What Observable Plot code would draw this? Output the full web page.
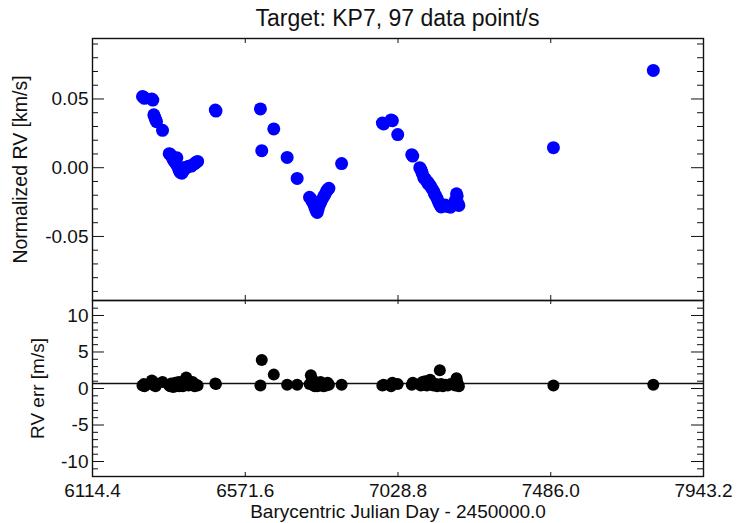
<!DOCTYPE html>
<html><head><meta charset="utf-8">
<script src="https://cdn.jsdelivr.net/npm/d3@7"></script>
<script src="https://cdn.jsdelivr.net/npm/@observablehq/plot@0.6"></script>
<style>
body{margin:0;background:#fff;}
#c{position:relative;width:737px;height:523px;font-family:"Liberation Sans",Arial,sans-serif;overflow:hidden;}
#title{position:absolute;left:92px;width:611px;top:6px;text-align:center;font-size:23px;line-height:24px;color:#111;}
#top,#bot{position:absolute;left:0;}
#top{top:0}
#bot{top:299px}
svg{overflow:visible}
</style></head><body>
<div id="c"><div id="title">Target: KP7, 97 data point/s</div><div id="top"></div><div id="bot"></div></div>
<script>
// Barycentric Julian Day - 2450000.0
const bjd = [
  6264, 6268, 6270, 6292, 6295, 6298, 6300, 6303, 6306, 6324,
  6344, 6347, 6350, 6352, 6356, 6358, 6360, 6362, 6364, 6367,
  6370, 6372, 6374, 6377, 6380, 6382, 6385, 6388, 6390, 6395,
  6398, 6402, 6410, 6414, 6420, 6425, 6429, 6482, 6484,
  6617, 6621, 6657, 6697, 6727, 6764, 6768, 6772, 6776, 6780,
  6784, 6787, 6790, 6794, 6797, 6801, 6806, 6810, 6814, 6818,
  6822, 6860,
  6982, 6986, 7008, 7012, 7028, 7070, 7073, 7094, 7097, 7100,
  7102, 7106, 7110, 7115, 7118, 7120, 7125, 7130, 7135, 7138,
  7142, 7146, 7150, 7154, 7158, 7163, 7170, 7178, 7186, 7200,
  7204, 7206, 7209, 7211,
  7494, 7793
];
// Normalized RV [km/s]
const rv = [
  0.0518, 0.0512, 0.0505, 0.0500, 0.0492, 0.0385, 0.0372, 0.0352, 0.0335, 0.0272,
  0.0102, 0.0098, 0.0088, 0.0080, 0.0060, 0.0052, 0.0045, 0.0065, 0.0030, 0.0072,
  0.0010, -0.0005, -0.0020, -0.0035, -0.0028, -0.0040, -0.0010, -0.0018, 0.0002, 0.0000,
  0.0005, 0.0010, 0.0012, 0.0020, 0.0030, 0.0040, 0.0046, 0.0420, 0.0412,
  0.0428, 0.0124, 0.0282, 0.0075, -0.0078, -0.0215, -0.0228, -0.0245, -0.0263, -0.0290,
  -0.0315, -0.0326, -0.0300, -0.0270, -0.0253, -0.0235, -0.0212, -0.0195, -0.0175, -0.0160,
  -0.0150, 0.0030,
  0.0325, 0.0318, 0.0348, 0.0342, 0.0241, 0.0095, 0.0085, 0.0000, -0.0012, -0.0030,
  -0.0045, -0.0075, -0.0080, -0.0100, -0.0105, -0.0120, -0.0128, -0.0150, -0.0170, -0.0190,
  -0.0205, -0.0225, -0.0250, -0.0270, -0.0285, -0.0278, -0.0272, -0.0283, -0.0287, -0.0240,
  -0.0190, -0.0205, -0.0262, -0.0275,
  0.0146, 0.0708
];
// RV err [m/s]
const rvErr = [
  0.4, 0.6, 0.3, 1.1, 0.5, 0.7, 0.8, 0.3, 0.6, 0.9,
  0.4, 0.3, 0.7, 0.5, 0.2, 0.6, 0.4, 0.8, 0.3, 0.5,
  0.4, 0.9, 0.3, 0.6, 0.4, 0.7, 0.3, 0.5, 1.1, 1.5,
  0.8, 0.4, 0.6, 0.9, 0.3, 0.5, 0.4, 0.7, 0.6,
  0.4, 3.9, 1.9, 0.5, 0.5, 0.6, 1.8, 1.3, 0.4, 0.3,
  0.5, 0.3, 0.6, 0.4, 0.9, 0.5, 0.3, 0.6, 0.4, 0.8,
  0.5, 0.5,
  0.4, 0.5, 0.3, 0.8, 0.6, 0.5, 0.8, 0.6, 0.4, 0.7,
  0.9, 0.5, 1.0, 0.4, 0.6, 0.7, 1.2, 0.5, 0.4, 0.6,
  0.6, 0.3, 0.5, 2.5, 0.6, 0.3, 0.5, 0.4, 0.6, 0.4,
  1.4, 0.9, 0.5, 0.3,
  0.4, 0.5
];
const errLevel = 0.68;

const xTicks = [6114.4, 6571.6, 7028.8, 7486.0, 7943.2];
const rvTicks = [-0.05, 0.00, 0.05];
const rvMinor = [-0.09, -0.08, -0.07, -0.06, -0.04, -0.03, -0.02, -0.01, 0.01, 0.02, 0.03, 0.04, 0.06, 0.07, 0.08, 0.09];
const errTicks = [-10, -5, 0, 5, 10];
const errMinor = [-11, -9, -8, -7, -6, -4, -3, -2, -1, 1, 2, 3, 4, 6, 7, 8, 9, 11];

const rows = bjd.map((t, i) => ({t, rv: rv[i], err: rvErr[i]}));

const W = 737, ML = 92, MR = 34;
const FW = W - ML - MR;
const ink = "#111";

function frameTicks(yMaj, yMin, FH, xLen) {
  return [
    Plot.tickX(xTicks, {x: d => d, insetBottom: FH - xLen, stroke: ink, strokeWidth: 1}),
    Plot.tickX(xTicks, {x: d => d, insetTop: FH - xLen, stroke: ink, strokeWidth: 1}),
    Plot.tickY(yMaj, {y: d => d, insetRight: FW - 12, stroke: ink, strokeWidth: 1}),
    Plot.tickY(yMaj, {y: d => d, insetLeft: FW - 12, stroke: ink, strokeWidth: 1}),
    Plot.tickY(yMin, {y: d => d, insetRight: FW - 6, stroke: ink, strokeWidth: 1}),
    Plot.tickY(yMin, {y: d => d, insetLeft: FW - 6, stroke: ink, strokeWidth: 1})
  ];
}

const style = {fontFamily: '"Liberation Sans", Arial, sans-serif', fontSize: "19px", color: ink, background: "transparent"};

// Top panel: frame 38..300
const topH = 302, topMT = 38, topMB = 2;
const topFH = topH - topMT - topMB;
const topPlot = Plot.plot({
  width: W, height: topH,
  marginLeft: ML, marginRight: MR, marginTop: topMT, marginBottom: topMB,
  style,
  x: {domain: [6114.4, 7943.2]},
  y: {domain: [-0.0966, 0.0940]},
  marks: [
    Plot.dot(rows, {x: "t", y: "rv", r: 6.5, fill: "#0000ff", stroke: null}),
    ...frameTicks(rvTicks, rvMinor, topFH, 5),
    Plot.axisY(rvTicks, {anchor: "left", tickSize: 0, tickPadding: 4, tickFormat: d => d.toFixed(2), label: null, fontSize: 19}),
    Plot.axisX([], {label: null}),
    Plot.text(["Normalized RV [km/s]"], {frameAnchor: "left", text: d => d, rotate: -90, dx: -72, fontSize: 19.5, textAnchor: "middle", lineAnchor: "middle", fill: ink}),
    Plot.frame({stroke: ink, strokeWidth: 1.4})
  ]
});
document.getElementById("top").append(topPlot);

// Bottom panel: frame 300..476
const botH = 224, botMT = 1, botMB = 47;
const botFH = botH - botMT - botMB;
const botPlot = Plot.plot({
  width: W, height: botH,
  marginLeft: ML, marginRight: MR, marginTop: botMT, marginBottom: botMB,
  style,
  x: {domain: [6114.4, 7943.2]},
  y: {domain: [-12.05, 12.05]},
  marks: [
    Plot.ruleY([errLevel], {stroke: ink, strokeWidth: 1.4}),
    Plot.dot(rows, {x: "t", y: "err", r: 6, fill: "#000", stroke: null}),
    ...frameTicks(errTicks, errMinor, botFH, 4),
    Plot.axisY(errTicks, {anchor: "left", tickSize: 0, tickPadding: 4, tickFormat: d => String(d), label: null, fontSize: 19}),
    Plot.axisX(xTicks, {anchor: "bottom", tickSize: 0, tickPadding: 7, tickFormat: d => d.toFixed(1), label: null, fontSize: 19}),
    Plot.text(["RV err [m/s]"], {frameAnchor: "left", text: d => d, rotate: -90, dx: -55, fontSize: 19, textAnchor: "middle", lineAnchor: "middle", fill: ink}),
    Plot.text(["Barycentric Julian Day - 2450000.0"], {frameAnchor: "bottom", text: d => d, dy: 35.5, fontSize: 19, textAnchor: "middle", lineAnchor: "middle", fill: ink}),
    Plot.frame({stroke: ink, strokeWidth: 1.4})
  ]
});
document.getElementById("bot").append(botPlot);
</script>
</body></html>
